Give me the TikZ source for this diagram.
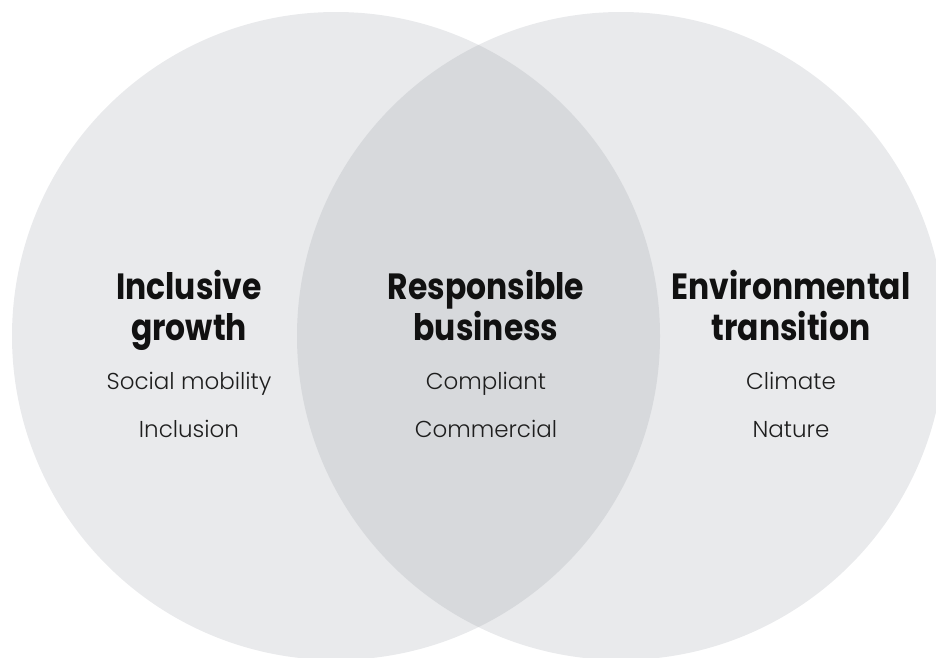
\documentclass[tikz,border=0pt]{standalone}
\usepackage{fontspec}
\setmainfont{Poppins}
\newfontfamily\headfont[FakeStretch=0.86]{Poppins Bold}
\newfontfamily\bodyfont{Poppins Light}
\definecolor{ringfill}{HTML}{E9EAEC}
\definecolor{lensfill}{HTML}{D7D9DC}
\definecolor{headink}{HTML}{111111}
\definecolor{bodyink}{HTML}{1E1E1E}
\tikzset{
  heading/.style={anchor=base, inner sep=0pt, text=headink,
    font=\headfont\fontsize{36.5}{40}\selectfont},
  item/.style={anchor=base, inner sep=0pt, text=bodyink,
    font=\bodyfont\fontsize{23}{27}\selectfont},
}
\begin{document}
\begin{tikzpicture}[x=1pt, y=-1pt]
  \useasboundingbox (0,0) rectangle (936,657);
  \begin{scope}
    \clip (0,0) rectangle (936,657);
    % the two sets
    \fill[ringfill] (336,336) circle[radius=324];
    \fill[ringfill] (621,336) circle[radius=324];
    % their overlap
    \begin{scope}
      \clip (336,336) circle[radius=324];
      \fill[lensfill] (621,336) circle[radius=324];
    \end{scope}
  \end{scope}

  % left set
  \node[heading] (ig1) at (189,299) {Inclusive};
  \node[heading] (ig2) at (189,340) {growth};
  \node[item] (ig3) at (189,389) {Social mobility};
  \node[item] (ig4) at (189,437) {Inclusion};

  % overlap
  \node[heading] (rb1) at (486,299) {Responsible};
  \node[heading] (rb2) at (486,340) {business};
  \node[item] (rb3) at (486,389) {Compliant};
  \node[item] (rb4) at (486,437) {Commercial};

  % right set
  \node[heading] (et1) at (791,299) {Environmental};
  \node[heading] (et2) at (791,340) {transition};
  \node[item] (et3) at (791,389) {Climate};
  \node[item] (et4) at (791,437) {Nature};
\end{tikzpicture}
\end{document}
